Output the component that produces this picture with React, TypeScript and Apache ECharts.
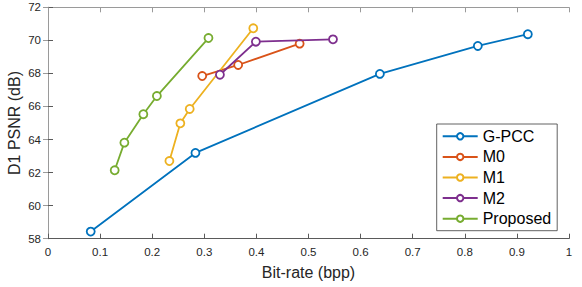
import React, { useEffect, useRef } from "react";
import * as echarts from "echarts";

const seriesNames = ["G-PCC", "M0", "M1", "M2", "Proposed"];
const colors = ["#0072BD", "#D95319", "#EDB120", "#7E2F8E", "#77AC30"];

const gpccX = [0.082, 0.283, 0.637, 0.825, 0.921];
const gpccY = [58.43, 63.19, 67.97, 69.66, 70.37];
const m0X = [0.296, 0.365, 0.483];
const m0Y = [67.84, 68.51, 69.8];
const m1X = [0.233, 0.254, 0.272, 0.394];
const m1Y = [62.7, 64.98, 65.85, 70.73];
const m2X = [0.33, 0.399, 0.547];
const m2Y = [67.92, 69.92, 70.06];
const propX = [0.128, 0.1466, 0.183, 0.209, 0.308];
const propY = [62.14, 63.81, 65.53, 66.63, 70.14];

const xs = [gpccX, m0X, m1X, m2X, propX];
const ys = [gpccY, m0Y, m1Y, m2Y, propY];

const xTicks = { min: 0, max: 1, interval: 0.1 };
const yTicks = { min: 58, max: 72, interval: 2 };

const FONT = "'Liberation Sans', Arial, Helvetica, sans-serif";
const TEXT = "#262626";

export default function App() {
  const ref = useRef<HTMLDivElement>(null);
  useEffect(() => {
    if (!ref.current) return;
    const chart = echarts.init(ref.current, undefined, { renderer: "svg" });
    const axisLineDark = { show: true, lineStyle: { color: "#5a5a5a", width: 1 } };
    const axisLineLight = { show: true, lineStyle: { color: "#9a9a9a", width: 1 } };
    const tick = { show: true, inside: true, length: 5, lineStyle: { color: "#5a5a5a", width: 1 } };
    const tickLight = { show: true, inside: true, length: 5, lineStyle: { color: "#9a9a9a", width: 1 } };
    chart.setOption({
      animation: false,
      backgroundColor: "#ffffff",
      textStyle: { fontFamily: FONT },
      grid: { left: 48, right: 13, top: 7.3, bottom: 48.3, containLabel: false, outerBoundsMode: "none" },
      xAxis: [
        {
          type: "value",
          ...xTicks,
          position: "bottom",
          name: "Bit-rate (bpp)",
          nameLocation: "middle",
          nameGap: 26,
          nameTextStyle: { fontSize: 16, color: TEXT, fontFamily: FONT },
          axisLine: axisLineDark,
          axisTick: tick,
          splitLine: { show: false },
          axisLabel: {
            margin: 7,
            fontSize: 11.5,
            color: TEXT,
            fontFamily: FONT,
            formatter: (v: number) => (v === 0 ? "0" : v === 1 ? "1" : v.toFixed(1)),
          },
        },
        {
          type: "value",
          ...xTicks,
          position: "top",
          axisLine: axisLineLight,
          axisTick: tickLight,
          splitLine: { show: false },
          axisLabel: { show: false },
        },
      ],
      yAxis: [
        {
          type: "value",
          ...yTicks,
          position: "left",
          name: "D1 PSNR (dB)",
          nameLocation: "middle",
          nameGap: 26,
          nameMoveOverlap: false,
          nameTextStyle: { fontSize: 16, color: TEXT, fontFamily: FONT },
          axisLine: axisLineDark,
          axisTick: tick,
          splitLine: { show: false },
          axisLabel: { margin: 7, fontSize: 11.5, color: TEXT, fontFamily: FONT },
        },
        {
          type: "value",
          ...yTicks,
          position: "right",
          axisLine: axisLineLight,
          axisTick: tickLight,
          splitLine: { show: false },
          axisLabel: { show: false },
        },
      ],
      legend: {
        orient: "vertical",
        left: 436.7,
        top: 124,
        data: seriesNames,
        itemWidth: 35,
        itemHeight: 8,
        itemGap: 4.6,
        padding: [4.3, 6, 4, 5],
        borderColor: "#3a3a3a",
        borderWidth: 0.8,
        backgroundColor: "#ffffff",
        textStyle: { fontSize: 16, color: "#000", fontFamily: FONT, lineHeight: 16 },
      },
      series: seriesNames.map((name, i) => ({
        name,
        type: "line",
        data: xs[i].map((x, j) => [x, ys[i][j]]),
        symbol: "circle",
        symbolSize: 8,
        showSymbol: true,
        lineStyle: { color: colors[i], width: 1.8 },
        itemStyle: { color: "#ffffff", borderColor: colors[i], borderWidth: 1.8 },
        emphasis: { disabled: true },
        z: 2 + i,
      })),
    });
    return () => chart.dispose();
  }, []);
  return (
    <div
      ref={ref}
      style={{ position: "fixed", left: 0, top: 0, width: 582, height: 287 }}
    />
  );
}
